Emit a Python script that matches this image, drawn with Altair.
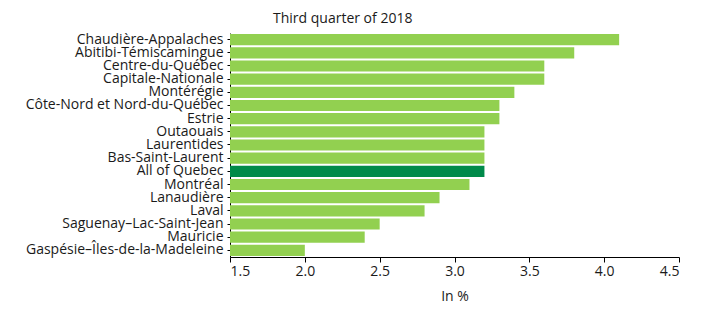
import altair as alt
import pandas as pd

regions = ["Chaudière-Appalaches", "Abitibi-Témiscamingue", "Centre-du-Québec",
           "Capitale-Nationale", "Montérégie", "Côte-Nord et Nord-du-Québec",
           "Estrie", "Outaouais", "Laurentides", "Bas-Saint-Laurent",
           "All of Quebec", "Montréal", "Lanaudière", "Laval",
           "Saguenay–Lac-Saint-Jean", "Mauricie", "Gaspésie–Îles-de-la-Madeleine"]
values = [4.1, 3.8, 3.6, 3.6, 3.4, 3.3, 3.3, 3.2, 3.2, 3.2, 3.2, 3.1, 2.9, 2.8, 2.5, 2.4, 2.0]
groups = ["region"] * 10 + ["total"] + ["region"] * 6
x_ticks = [1.5, 2.0, 2.5, 3.0, 3.5, 4.0, 4.5]

df = pd.DataFrame({"region": regions, "value": values, "group": groups})

FONT = "Open Sans"

chart = alt.Chart(df).mark_bar(clip=True).encode(
    y=alt.Y("region:N", sort=regions, title=None,
            scale=alt.Scale(paddingInner=0.15, paddingOuter=0.08),
            axis=alt.Axis(labelFont=FONT, labelFontSize=14, labelColor="#1a1a1a",
                          domainColor="#000", tickColor="#000", tickSize=3,
                          labelPadding=4, minExtent=222, maxExtent=222,
                          labelLimit=300, labelBaseline="middle")),
    x=alt.X("value:Q", title="In %",
            scale=alt.Scale(domain=[1.5, 4.5], nice=False, zero=False),
            axis=alt.Axis(values=x_ticks, format=".1f", labelFont=FONT, labelFontSize=14,
                          labelColor="#1a1a1a", titleFont=FONT, titleFontSize=14,
                          titleFontWeight="normal", titleColor="#1a1a1a",
                          domainColor="#000", tickColor="#000", tickSize=5,
                          grid=False, labelPadding=2, titlePadding=11)),
    color=alt.Color("group:N", legend=None,
                    scale=alt.Scale(domain=["region", "total"], range=["#92D050", "#008A4A"])),
).properties(
    width=449, height=224,
    title=alt.TitleParams("Third quarter of 2018", font=FONT, fontSize=14,
                          fontWeight="normal", color="#1a1a1a", anchor="start",
                          frame="group", dx=43, offset=6),
    padding={"left": 0, "top": 4, "right": 5, "bottom": 0},
).configure_view(stroke=None)

chart.save("out.html", embed_options={"renderer": "svg", "actions": False})
